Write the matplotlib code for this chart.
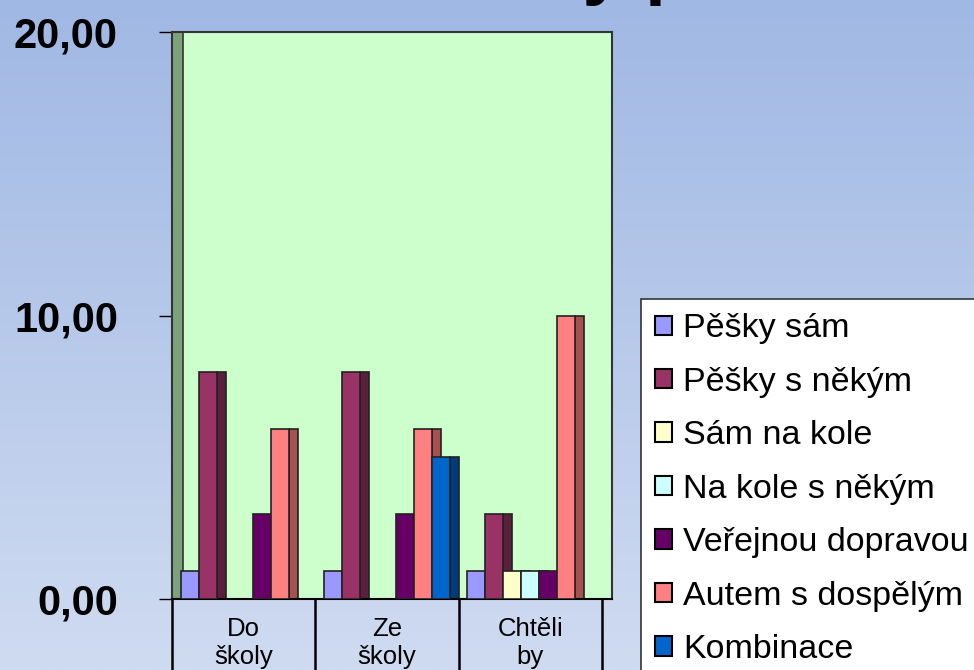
import numpy as np
import matplotlib.pyplot as plt
from matplotlib.patches import Patch, Rectangle

plt.rcParams['font.family'] = ['Liberation Sans', 'DejaVu Sans']

kategorie = ["Do\nškoly", "Ze\nškoly", "Chtěli\nby"]
serie = ["Pěšky sám", "Pěšky s někým", "Sám na kole", "Na kole s někým",
         "Veřejnou dopravou", "Autem s dospělým", "Kombinace"]
pesky_sam = [1, 1, 1]
pesky_s_nekym = [8, 8, 3]
sam_na_kole = [0, 0, 1]
na_kole_s_nekym = [0, 0, 1]
verejnou = [3, 3, 1]
autem = [6, 6, 10]
kombinace = [0, 5, 0]
hodnoty = [pesky_sam, pesky_s_nekym, sam_na_kole, na_kole_s_nekym,
           verejnou, autem, kombinace]
barvy = ["#9999ff", "#993366", "#ffffcc", "#ccffff", "#660066", "#ff8080", "#0066cc"]
boky = ["#5f5f9f", "#5c1f3d", "#9f9f7f", "#7f9f9f", "#3d003d", "#a65050", "#003d7a"]
yticks = [0, 10, 20]

W, H = 974, 670
fig = plt.figure(figsize=(W / 100, H / 100), dpi=100)

# gradient background
bg = fig.add_axes([0, 0, 1, 1], zorder=-10)
grad = np.linspace(0, 1, 256)[:, None]
top = np.array([160, 184, 228]) / 255
bot = np.array([207, 219, 241]) / 255
img = top[None, None, :] * (1 - grad[:, :, None]) + bot[None, None, :] * grad[:, :, None]
bg.imshow(img, aspect='auto', extent=[0, 1, 0, 1])
bg.axis('off')

# title (only the bottom of it is on the picture)
fig.text(232 / W, 1 + 9 / H, "Naše cesty po městě", fontsize=54, fontweight='bold',
         ha='left', va='baseline')

left, right, ytop, ybot = 172, 612, 32, 599
ax = fig.add_axes([left / W, 1 - ybot / H, (right - left) / W, (ybot - ytop) / H])
ax.set_facecolor("#ccffcc")
pxu = 143.33
ax.set_xlim(-0.5, 2.5 + 10 / pxu)
ax.set_ylim(0, 20)

# left side wall
ax.add_patch(Rectangle((0, 0), 11 / (right - left), 1, transform=ax.transAxes,
                       facecolor="#7ca27c", edgecolor="#333333", lw=1.2, zorder=1))

x = np.arange(len(kategorie))
w = 18 / pxu
d = 9 / pxu
n = len(serie)
for i, (vals, c, cb) in enumerate(zip(hodnoty, barvy, boky)):
    vals = np.array(vals, dtype=float)
    m = vals > 0
    pos = x + (i - (n - 1) / 2) * w
    ax.bar(pos[m] + w / 2 + d / 2, vals[m], width=d, color=cb,
           edgecolor="#222222", lw=1.2, zorder=2)
    ax.bar(pos[m], vals[m], width=w, color=c, edgecolor="#222222", lw=1.2, zorder=3)

for s in ax.spines.values():
    s.set_color("#333333")
    s.set_linewidth(1.5)
ax.spines['bottom'].set_color("black")

ax.set_yticks(yticks)
ax.set_yticklabels([f"{v:.2f}".replace(".", ",") for v in yticks],
                   fontsize=30, fontweight='bold')
ax.tick_params(axis='y', length=9.4, width=1, pad=29.5, color='black')

ax.set_xticks(x)
ax.set_xticklabels(kategorie, fontsize=18.5, linespacing=1.2)
ax.set_xticks([-0.5, 0.5, 1.5, 2.5], minor=True)
ax.tick_params(axis='x', which='major', length=0, pad=13)
ax.tick_params(axis='x', which='minor', length=55, width=1.8, color='black')

handles = [Patch(facecolor=c, edgecolor='black', lw=1.5) for c in barvy]
leg = fig.legend(handles, serie, loc='upper left', bbox_to_anchor=(641 / W, 1 - 299 / H),
                 fontsize=24.5, frameon=True, fancybox=False, framealpha=1,
                 edgecolor="#333333", handlelength=0.5, handleheight=0.5,
                 handletextpad=0.32, labelspacing=0.66, borderpad=0.42,
                 borderaxespad=0)
leg.get_frame().set_linewidth(1.2)

fig.savefig("out.png", dpi=100)
